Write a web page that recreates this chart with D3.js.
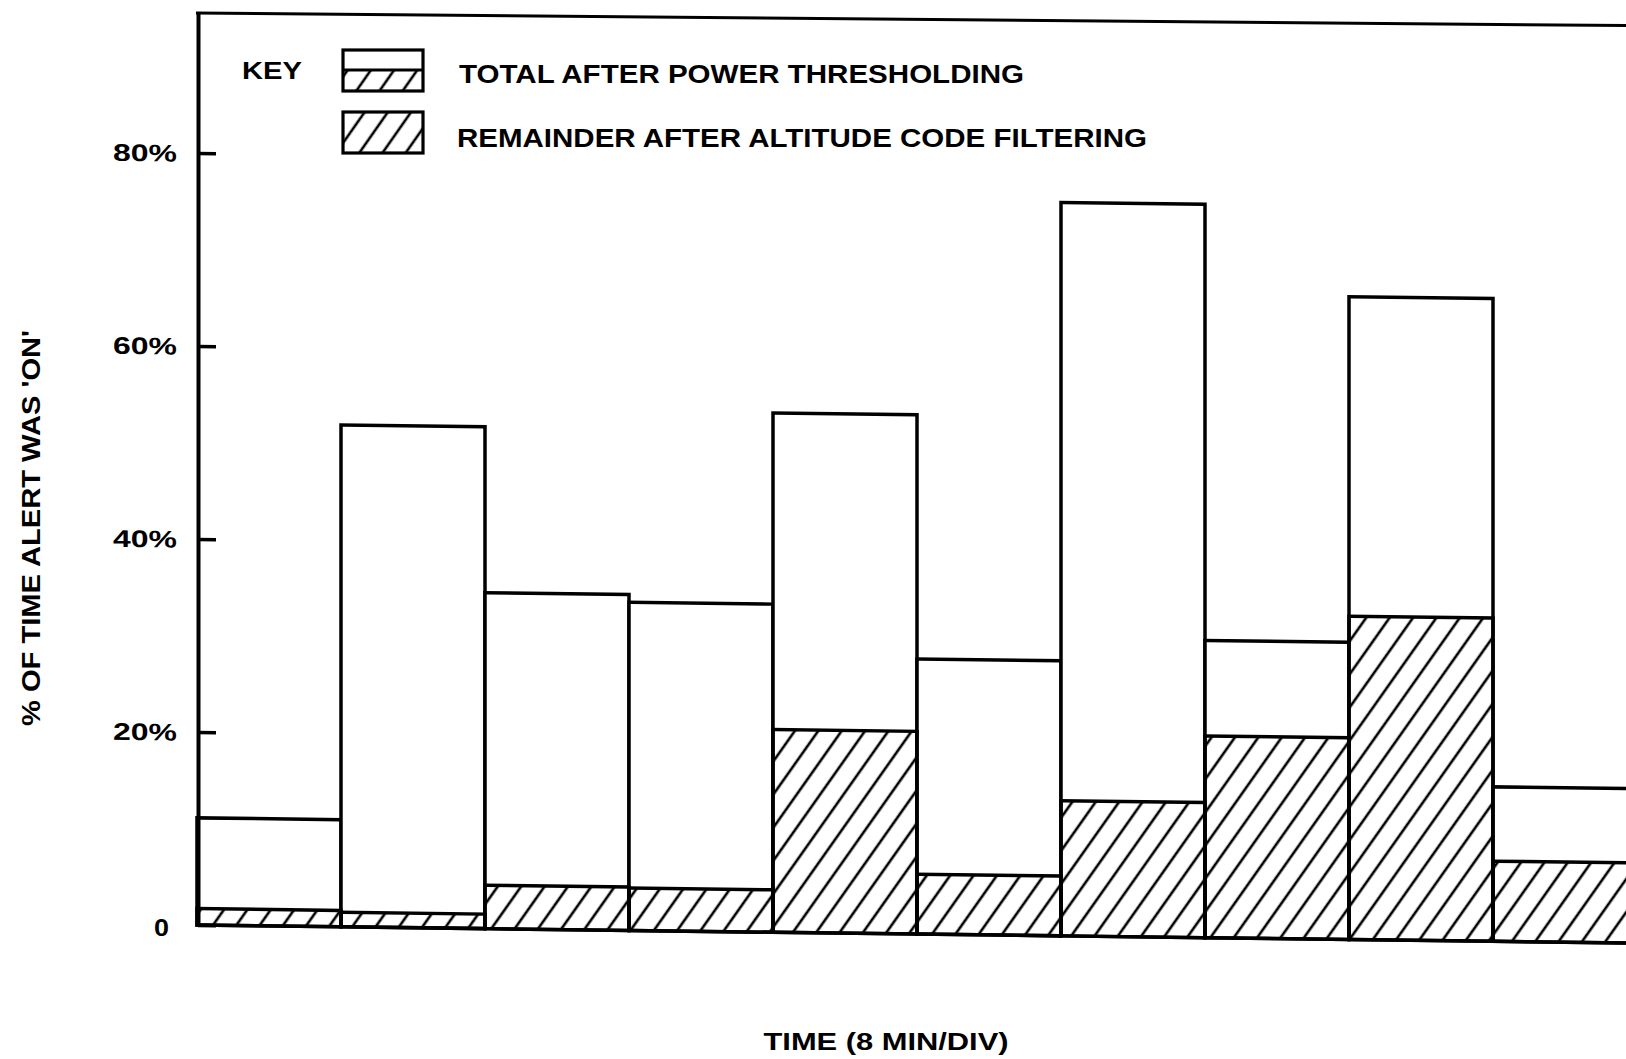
<!DOCTYPE html>
<html>
<head>
<meta charset="utf-8">
<script src="https://cdn.jsdelivr.net/npm/d3@7"></script>
<style>
  html, body { margin: 0; padding: 0; background: #fff; }
  svg { display: block; }
  text { font-family: "Liberation Sans", Arial, sans-serif; font-weight: bold; fill: #000; }
</style>
</head>
<body>
<svg id="chart" width="1626" height="1059"></svg>
<script>
// Start minute of each 8-minute division
const categories = [0, 8, 16, 24, 32, 40, 48, 56, 64, 72];
// % of time the alert was on, after power thresholding
const totalAfterThreshold = [11.1, 52.0, 34.8, 34.0, 53.8, 28.5, 76.0, 30.8, 66.6, 16.0];
// % remaining after altitude code filtering
const remainderAfterFiltering = [1.7, 1.5, 4.5, 4.4, 21.0, 6.2, 14.0, 20.9, 33.5, 8.3];
const yTickValues = [0, 20, 40, 60, 80];
const legendLabels = ["TOTAL AFTER POWER THRESHOLDING", "REMAINDER AFTER ALTITUDE CODE FILTERING"];

const svg = d3.select("#chart");

// diagonal hatch fill
const defs = svg.append("defs");
defs.append("pattern")
  .attr("id", "hatch")
  .attr("patternUnits", "userSpaceOnUse")
  .attr("width", 19).attr("height", 19)
  .attr("patternTransform", "rotate(35)")
  .append("line")
  .attr("x1", 2).attr("y1", -2).attr("x2", 2).attr("y2", 21)
  .attr("stroke", "#000").attr("stroke-width", 2.6);

const plotLeft = 197, plotBase = 925, plotTop = 13, band = 144.0;

const x = d3.scaleBand()
  .domain(categories)
  .range([plotLeft, plotLeft + band * categories.length])
  .paddingInner(0).paddingOuter(0);

const y = d3.scaleLinear().domain([0, 94.5]).range([plotBase, plotTop]);

// plotted sheet sits with a slight downward slant to the right
const plot = svg.append("g")
  .attr("transform", `translate(${plotLeft},${plotBase}) skewY(0.72) translate(${-plotLeft},${-plotBase})`);

const rows = categories.map((c, i) => ({
  c, total: totalAfterThreshold[i], rem: remainderAfterFiltering[i]
}));

// total bars (open)
plot.append("g").selectAll("rect")
  .data(rows).join("rect")
  .attr("x", d => x(d.c))
  .attr("width", x.bandwidth())
  .attr("y", d => y(d.total))
  .attr("height", d => y(0) - y(d.total))
  .attr("fill", "#fff")
  .attr("stroke", "#000")
  .attr("stroke-width", 3.5);

// remainder bars (hatched)
plot.append("g").selectAll("rect")
  .data(rows).join("rect")
  .attr("x", d => x(d.c))
  .attr("width", x.bandwidth())
  .attr("y", d => y(d.rem))
  .attr("height", d => y(0) - y(d.rem))
  .attr("fill", "url(#hatch)")
  .attr("stroke", "#000")
  .attr("stroke-width", 3.5);

// left axis with inward ticks
const yAxis = d3.axisLeft(y)
  .tickValues(yTickValues)
  .tickSizeInner(-18)
  .tickSizeOuter(0)
  .tickPadding(21)
  .tickFormat(d => d === 0 ? "0" : d + "%");

const ax = plot.append("g")
  .attr("transform", `translate(${plotLeft + 1},0)`)
  .call(yAxis);
ax.select(".domain").attr("stroke", "#000").attr("stroke-width", 4);
ax.selectAll(".tick line").attr("stroke", "#000").attr("stroke-width", 3.5);
ax.selectAll(".tick text")
  .attr("font-size", 24)
  .attr("font-family", "Liberation Sans, Arial, sans-serif")
  .attr("font-weight", "bold")
  .attr("fill", "#000")
  .attr("dx", d => d === 0 ? -8 : 0)
  .attr("dy", d => d === 0 ? "0.45em" : "0.35em")
  .attr("textLength", d => d === 0 ? 15 : 64)
  .attr("lengthAdjust", "spacingAndGlyphs");

// top frame rule
svg.append("line")
  .attr("x1", plotLeft - 1).attr("y1", plotTop)
  .attr("x2", 1630).attr("y2", plotTop + 12.6)
  .attr("stroke", "#000").attr("stroke-width", 3);

// key
svg.append("text")
  .attr("x", 242).attr("y", 70.5).attr("dy", "0.35em")
  .attr("font-size", 24)
  .attr("textLength", 60).attr("lengthAdjust", "spacingAndGlyphs")
  .text("KEY");

const key = svg.append("g");
// key swatch 1: open top over hatched bottom
key.append("rect").attr("x", 343).attr("y", 70).attr("width", 80).attr("height", 21)
  .attr("fill", "url(#hatch)").attr("stroke", "none");
key.append("rect").attr("x", 343).attr("y", 50).attr("width", 80).attr("height", 41)
  .attr("fill", "none").attr("stroke", "#000").attr("stroke-width", 3.2);
key.append("line").attr("x1", 343).attr("x2", 423).attr("y1", 70).attr("y2", 70)
  .attr("stroke", "#000").attr("stroke-width", 3);
// key swatch 2: hatched
key.append("rect").attr("x", 343).attr("y", 112).attr("width", 80).attr("height", 41)
  .attr("fill", "url(#hatch)").attr("stroke", "#000").attr("stroke-width", 3.2);

key.append("text")
  .attr("x", 459).attr("y", 74.5).attr("dy", "0.35em")
  .attr("font-size", 25)
  .attr("textLength", 565).attr("lengthAdjust", "spacingAndGlyphs")
  .text(legendLabels[0]);
key.append("text")
  .attr("x", 457).attr("y", 138).attr("dy", "0.35em")
  .attr("font-size", 25)
  .attr("textLength", 690).attr("lengthAdjust", "spacingAndGlyphs")
  .text(legendLabels[1]);

// axis titles
svg.append("text")
  .attr("transform", "translate(31,528) rotate(-90)")
  .attr("text-anchor", "middle").attr("dy", "0.35em")
  .attr("font-size", 26)
  .attr("textLength", 396).attr("lengthAdjust", "spacingAndGlyphs")
  .text("% OF TIME ALERT WAS 'ON'");

svg.append("text")
  .attr("x", 886).attr("y", 1042)
  .attr("text-anchor", "middle").attr("dy", "0.35em")
  .attr("font-size", 24)
  .attr("textLength", 245).attr("lengthAdjust", "spacingAndGlyphs")
  .text("TIME (8 MIN/DIV)");
</script>
</body>
</html>
